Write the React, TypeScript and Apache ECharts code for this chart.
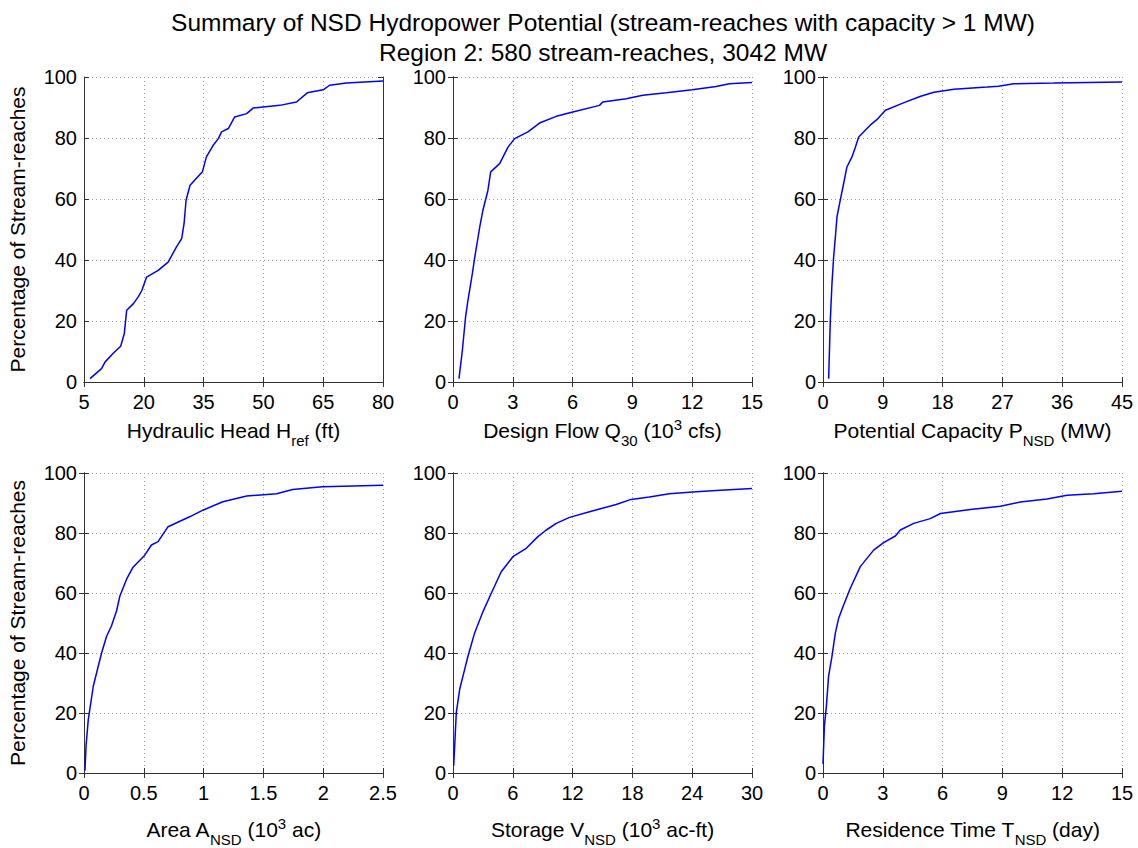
import React, { useEffect, useRef } from "react";
import * as echarts from "echarts";

// Panel 1: Hydraulic Head H_ref (ft)
const headX = [6.5, 9.4, 10.3, 12.4, 14.2, 15.1, 15.7, 17.4, 18.6, 19.5, 20.7, 23.6, 26.1, 28.2, 29.5, 30.1, 30.6, 31.6, 34.7, 35.7, 37.4, 38.7, 39.5, 41.2, 42.8, 45.8, 47.4, 49.9, 54.1, 58.3, 61, 65, 66.6, 70.8, 80];
const headY = [1.1, 4.4, 6.6, 9.5, 11.7, 15.8, 23.5, 25.7, 27.9, 30, 34.4, 36.6, 39.3, 44.3, 47, 51.9, 59.6, 64.5, 68.9, 73.8, 77.6, 79.8, 82, 83.1, 86.9, 88, 89.8, 90.2, 90.7, 91.8, 94.8, 95.8, 97.3, 98, 98.7];

// Panel 2: Design Flow Q_30 (10^3 cfs)
const flowX = [0.3, 0.47, 0.63, 0.75, 0.97, 1.08, 1.34, 1.5, 1.75, 1.89, 2.34, 2.76, 3.09, 3.76, 4.34, 5.18, 6.01, 7.35, 7.51, 8.69, 9.52, 10.7, 12.0, 13.2, 13.86, 15];
const flowY = [1.1, 10.4, 21.3, 26.8, 35.5, 40.4, 50.8, 56.3, 62.8, 68.9, 71.6, 77, 79.8, 82, 84.9, 87.1, 88.5, 90.7, 91.8, 92.9, 94, 94.8, 95.8, 96.9, 97.8, 98.2];

// Panel 3: Potential Capacity P_NSD (MW)
const capX = [0.85, 1.1, 1.35, 1.6, 1.86, 2.1, 2.6, 3.1, 3.6, 4.36, 4.87, 5.37, 7.1, 8.1, 9.4, 12.1, 14.7, 16.7, 19.7, 24.7, 26.4, 28.7, 34.7, 45];
const capY = [1.1, 20.2, 32.2, 41, 47.5, 54.1, 59.6, 65, 70.5, 73.8, 77, 80.3, 84.2, 86, 89.1, 91.5, 93.7, 95, 96, 96.7, 97, 97.8, 98, 98.4];

// Panel 4: Area A_NSD (10^3 ac)
const areaX = [0.008, 0.017, 0.036, 0.078, 0.119, 0.147, 0.189, 0.23, 0.272, 0.3, 0.356, 0.41, 0.508, 0.564, 0.619, 0.703, 0.883, 0.994, 1.161, 1.36, 1.61, 1.744, 1.994, 2.5];
const areaY = [0.8, 9, 17.9, 29, 35.6, 40, 45.6, 49.1, 54, 59, 64.6, 68.6, 72.6, 76, 77.1, 82.1, 85.4, 87.6, 90.4, 92.3, 93.1, 94.5, 95.4, 95.9];

// Panel 5: Storage V_NSD (10^3 ac-ft)
const storX = [0.07, 0.33, 0.67, 1.0, 1.5, 2.17, 3.01, 3.84, 4.84, 6.01, 7.35, 8.52, 9.36, 10.36, 11.69, 13.7, 16.37, 17.87, 19.71, 21.7, 24.05, 26.4, 30];
const storY = [2.4, 20.1, 27.9, 32.3, 38.9, 46.7, 53.8, 59.9, 67.1, 72.1, 74.9, 78.8, 81, 83.2, 85.2, 87.1, 89.5, 91.2, 92, 93.1, 93.7, 94.2, 94.8];

// Panel 6: Residence Time T_NSD (day)
const resX = [0, 0.07, 0.17, 0.28, 0.45, 0.62, 0.79, 1.04, 1.37, 1.87, 2.54, 3.04, 3.63, 3.88, 4.55, 5.38, 5.89, 7.39, 8.9, 9.9, 11.24, 12.24, 13.58, 15];
const resY = [3, 15.7, 22.3, 32.3, 38.9, 46.7, 51.7, 56.1, 61.6, 68.8, 74.3, 76.8, 79, 81, 83.2, 84.8, 86.5, 87.8, 88.9, 90.3, 91.3, 92.6, 93.1, 93.9];

const xMins = [5, 0, 0, 0, 0, 0];
const xMaxs = [80, 15, 45, 2.5, 30, 15];
const xSteps = [15, 3, 9, 0.5, 6, 3];
const xNames = [
  "{n|Hydraulic Head H}{sub|ref}{n| (ft)}",
  "{n|Design Flow Q}{sub|30}{n| (10}{sup|3}{n| cfs)}",
  "{n|Potential Capacity P}{sub|NSD}{n| (MW)}",
  "{n|Area A}{sub|NSD}{n| (10}{sup|3}{n| ac)}",
  "{n|Storage V}{sub|NSD}{n| (10}{sup|3}{n| ac-ft)}",
  "{n|Residence Time T}{sub|NSD}{n| (day)}",
];
const yTitle = "Percentage of Stream-reaches";
const titleLines = [
  "Summary of NSD Hydropower Potential (stream-reaches with capacity > 1 MW)",
  "Region 2: 580 stream-reaches, 3042 MW",
];

const panelXs = [headX, flowX, capX, areaX, storX, resX];
const panelYs = [headY, flowY, capY, areaY, storY, resY];

const FONT = "'Liberation Sans', Arial, Helvetica, sans-serif";
const TXT = "#000";
const AX = "#333333";

export default function App() {
  const ref = useRef<HTMLDivElement>(null);
  useEffect(() => {
    if (!ref.current) return;
    const chart = echarts.init(ref.current, undefined, { renderer: "svg" });
    const lefts = [84, 453, 823];
    const grids: any[] = [];
    const xAxes: any[] = [];
    const yAxes: any[] = [];
    const series: any[] = [];
    for (let i = 0; i < 6; i++) {
      const row = Math.floor(i / 3);
      const col = i % 3;
      grids.push({
        left: lefts[col],
        top: row === 0 ? 77 : 473,
        width: 299,
        height: row === 0 ? 305 : 302,
        containLabel: false,
      });
      const common = {
        gridIndex: i,
        type: "value",
        min: xMins[i],
        max: xMaxs[i],
        interval: xSteps[i],
      };
      xAxes.push({
        ...common,
        position: "bottom",
        axisLine: { show: true, lineStyle: { color: AX, width: 1 } },
        axisTick: { show: true, inside: true, length: 5, lineStyle: { color: AX } },
        axisLabel: { show: true, color: TXT, fontSize: 20, fontFamily: FONT, margin: 10 },
        splitLine: { show: true, lineStyle: { color: "#a0a0a0", type: [1, 3], width: 1 } },
        name: xNames[i],
        nameLocation: "middle",
        nameGap: row === 0 ? 31 : 39,
        nameTextStyle: {
          color: TXT,
          fontFamily: FONT,
          rich: {
            n: { fontSize: 21, fontFamily: FONT, color: TXT },
            sub: { fontSize: 15, fontFamily: FONT, color: TXT, padding: [20, 0, 0, 0] },
            sup: { fontSize: 15, fontFamily: FONT, color: TXT, padding: [0, 0, 13, 0] },
          },
        },
      });
      xAxes.push({
        ...common,
        position: "top",
        axisLine: { show: true, lineStyle: { color: AX, width: 1 } },
        axisTick: { show: true, inside: true, length: 5, lineStyle: { color: AX } },
        axisLabel: { show: false },
        splitLine: { show: false },
      });
      const ycommon = { gridIndex: i, type: "value", min: 0, max: 100, interval: 20 };
      yAxes.push({
        ...ycommon,
        position: "left",
        axisLine: { show: true, lineStyle: { color: AX, width: 1 } },
        axisTick: { show: true, inside: true, length: 5, lineStyle: { color: AX } },
        axisLabel: { show: true, color: TXT, fontSize: 20, fontFamily: FONT, margin: 7 },
        splitLine: { show: true, lineStyle: { color: "#a0a0a0", type: [1, 3], width: 1 } },
        name: col === 0 ? yTitle : "",
        nameLocation: "middle",
        nameGap: 56,
        nameTextStyle: { color: TXT, fontFamily: FONT, fontSize: 21 },
      });
      yAxes.push({
        ...ycommon,
        position: "right",
        axisLine: { show: true, lineStyle: { color: AX, width: 1 } },
        axisTick: { show: true, inside: true, length: 5, lineStyle: { color: AX } },
        axisLabel: { show: false },
        splitLine: { show: false },
      });
      const xs = panelXs[i];
      const ys = panelYs[i];
      series.push({
        type: "line",
        xAxisIndex: i * 2,
        yAxisIndex: i * 2,
        data: xs.map((x, k) => [x, ys[k]]),
        showSymbol: false,
        symbol: "none",
        smooth: false,
        lineStyle: { color: "#0000ff", width: 1.5 },
        clip: true,
      });
    }
    chart.setOption({
      animation: false,
      backgroundColor: "#fff",
      grid: grids,
      xAxis: xAxes,
      yAxis: yAxes,
      series,
      graphic: [
        {
          type: "text",
          x: 603,
          y: 7,
          style: {
            text: titleLines.join("\n"),
            textAlign: "center",
            fontSize: 24.5,
            lineHeight: 30,
            fontFamily: FONT,
            fill: TXT,
          },
        },
      ],
    });
    return () => chart.dispose();
  }, []);
  return (
    <div
      ref={ref}
      style={{ position: "fixed", left: 0, top: 0, width: 1138, height: 848, background: "#fff" }}
    />
  );
}
